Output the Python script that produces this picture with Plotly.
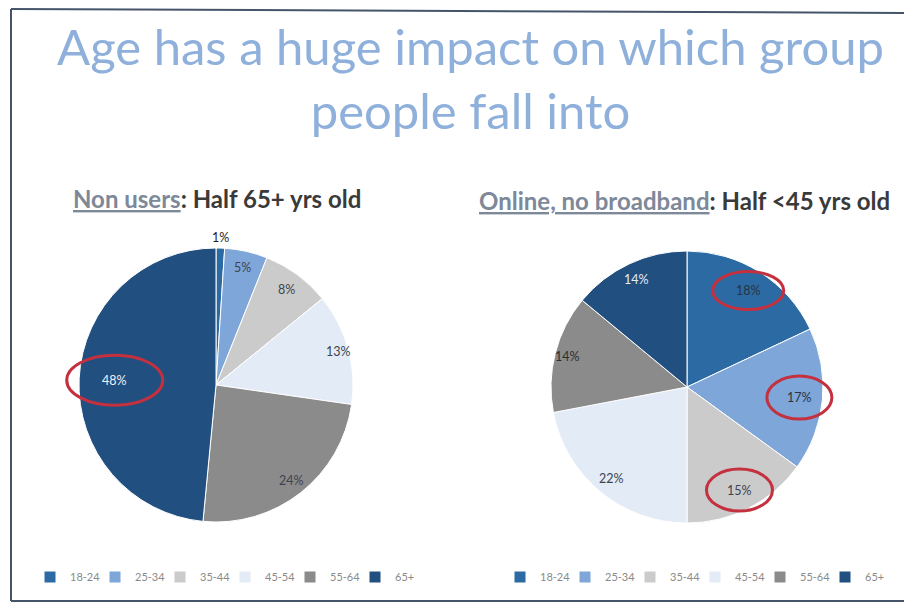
import math
import plotly.graph_objects as go

# Age bands shared by both pies
age_groups = ["18-24", "25-34", "35-44", "45-54", "55-64", "65+"]

# Share of each age band (%)
non_users = [1, 5, 8, 13, 24, 48]
online_no_broadband = [18, 17, 15, 22, 14, 14]

slice_colors = ["#2b6aa3", "#7ea6d9", "#cbcbcb", "#e3ebf6", "#8b8b8b", "#214f80"]

W, H = 904, 604


def px_x(x):
    return x / W


def px_y(y):
    return 1 - y / H


# Pie boxes in pixels: (centre x, centre y, radius)
LEFT_PIE = (216, 385, 137)
RIGHT_PIE = (687, 387, 136)

# Distance of each value label from the centre, as a fraction of the radius
left_label_r = [1.08, 0.88, 0.87, 0.93, 0.89, 0.74]
right_label_r = [0.84, 0.83, 0.85, 0.87, 0.91, 0.87]
left_label_colors = ["#1e1e1e", "#3c4450", "#3c4450", "#3c4450", "#3c4450", "#eef2f8"]
right_label_colors = ["#2a3340", "#2a3340", "#3c4450", "#3c4450", "#2e2e2e", "#e6ecf5"]

# Slices whose labels get a red ring, with ring size in px
left_rings = {5: (96, 50)}
right_rings = {0: (71, 38), 1: (65, 43), 2: (66, 42)}


def domain_of(pie):
    cx, cy, r = pie
    return dict(x=[px_x(cx - r), px_x(cx + r)], y=[px_y(cy + r), px_y(cy - r)])


def label_position(values, i, frac, pie):
    """Pixel position of slice i's label (clockwise from 12 o'clock)."""
    cx, cy, r = pie
    total = sum(values)
    mid = (sum(values[:i]) + values[i] / 2) / total * 2 * math.pi
    return cx + frac * r * math.sin(mid), cy - frac * r * math.cos(mid)


fig = go.Figure()

fig.add_trace(go.Pie(
    labels=age_groups,
    values=non_users,
    sort=False,
    direction="clockwise",
    rotation=0,
    marker=dict(colors=slice_colors, line=dict(color="white", width=1)),
    textinfo="none",
    domain=domain_of(LEFT_PIE),
    hoverinfo="label+value",
    legend="legend",
))

fig.add_trace(go.Pie(
    labels=[g + "\u200b" for g in age_groups],
    values=online_no_broadband,
    sort=False,
    direction="clockwise",
    rotation=0,
    marker=dict(colors=slice_colors, line=dict(color="white", width=1)),
    textinfo="none",
    domain=domain_of(RIGHT_PIE),
    hoverinfo="label+value",
    legend="legend2",
))

# Value labels and highlight rings
ring_line = dict(color="#c4303e", width=3)
for values, pie, fracs, colors, rings in [
    (non_users, LEFT_PIE, left_label_r, left_label_colors, left_rings),
    (online_no_broadband, RIGHT_PIE, right_label_r, right_label_colors, right_rings),
]:
    for i, v in enumerate(values):
        lx, ly = label_position(values, i, fracs[i], pie)
        fig.add_annotation(
            text=f"{v}%", x=px_x(lx), y=px_y(ly), xref="paper", yref="paper",
            showarrow=False, xanchor="center", yanchor="middle",
            font=dict(family="Lato", size=12.5, color=colors[i]),
        )
        if i in rings:
            rw, rh = rings[i]
            fig.add_shape(type="circle", xref="paper", yref="paper",
                          x0=px_x(lx - rw / 2), x1=px_x(lx + rw / 2),
                          y0=px_y(ly + rh / 2), y1=px_y(ly - rh / 2),
                          line=ring_line, fillcolor="rgba(0,0,0,0)")

legend_style = dict(
    orientation="h",
    font=dict(family="Lato", size=11, color="#8a8a8a"),
    bgcolor="rgba(0,0,0,0)",
    itemwidth=30,
    entrywidth=20,
    xanchor="left",
    yanchor="middle",
    traceorder="normal",
)

fig.update_layout(
    width=W,
    height=H,
    autosize=False,
    margin=dict(l=0, r=0, t=0, b=0),
    paper_bgcolor="white",
    plot_bgcolor="white",
    legend=dict(x=px_x(30), y=px_y(577), **legend_style),
    legend2=dict(x=px_x(500), y=px_y(577), **legend_style),
)

# Slide title
fig.add_annotation(
    text="Age has a huge impact on which group<br>people fall into",
    x=px_x(470), y=px_y(78), xref="paper", yref="paper",
    xanchor="center", yanchor="middle", showarrow=False,
    font=dict(family="Lato", size=49, color="#8eb0db"),
    align="center",
)

# Pie headings
fig.add_annotation(
    text="<b><span style='color:#7d8898'><u>Non users</u></span>: Half 65+ yrs old</b>",
    x=px_x(71), y=px_y(199), xref="paper", yref="paper",
    xanchor="left", yanchor="middle", showarrow=False,
    font=dict(family="Lato", size=24, color="#3a3a3a"),
)
fig.add_annotation(
    text="<b><span style='color:#7d8898'><u>Online, no broadband</u></span>: Half &lt;45 yrs old</b>",
    x=px_x(477), y=px_y(200), xref="paper", yref="paper",
    xanchor="left", yanchor="middle", showarrow=False,
    font=dict(family="Lato", size=24, color="#3a3a3a"),
)

# Slide frame
frame = dict(color="#46546a", width=2)
fig.add_shape(type="line", xref="paper", yref="paper",
              x0=px_x(11), y0=px_y(9), x1=px_x(904), y1=px_y(13), line=frame)
fig.add_shape(type="line", xref="paper", yref="paper",
              x0=px_x(11), y0=px_y(9), x1=px_x(11), y1=px_y(601), line=frame)
fig.add_shape(type="line", xref="paper", yref="paper",
              x0=px_x(11), y0=px_y(601), x1=px_x(904), y1=px_y(601), line=frame)

fig.write_html("out.html")
